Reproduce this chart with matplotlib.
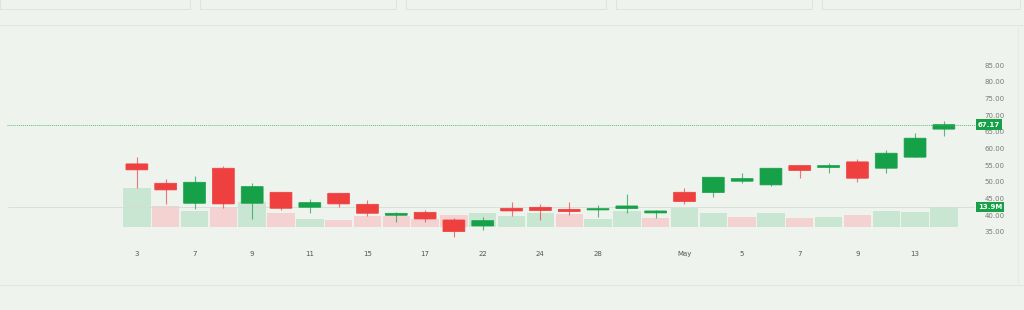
import matplotlib.pyplot as plt
import matplotlib.patches as mpatches
import numpy as np

# daily candles
opens  = [55.4, 49.6, 43.6, 54.1, 43.6, 46.9, 42.4, 46.6, 43.3, 40.0,
          40.9, 38.6, 36.8, 42.1, 42.4, 41.8, 41.6, 42.0, 40.7, 46.9,
          46.8, 50.2, 49.1, 54.9, 54.3, 56.0, 54.1, 57.4, 65.8]
highs  = [57.5, 50.9, 51.8, 54.9, 49.8, 47.0, 44.8, 46.8, 44.6, 41.1,
          41.6, 39.1, 39.6, 43.9, 43.3, 44.1, 43.1, 46.4, 41.6, 48.1,
          51.4, 52.6, 54.3, 55.2, 55.6, 56.8, 59.6, 64.7, 68.3]
lows   = [48.2, 43.4, 41.8, 42.1, 38.9, 41.6, 40.8, 42.4, 39.9, 38.1,
          38.1, 33.4, 35.6, 39.9, 38.6, 40.1, 39.6, 40.8, 39.1, 43.4,
          45.4, 49.6, 48.9, 51.1, 52.6, 49.9, 52.8, 57.4, 63.8]
closes = [53.6, 47.6, 49.9, 43.4, 48.6, 42.1, 43.8, 43.4, 40.6, 40.6,
          38.9, 35.1, 38.4, 41.3, 41.4, 41.1, 42.0, 42.8, 41.3, 44.1,
          51.4, 51.0, 54.1, 53.4, 54.9, 51.1, 58.6, 63.1, 67.17]
volumes = [26.9, 14.4, 11.2, 13.9, 17.1, 9.8, 5.7, 4.8, 7.5, 7.5,
           5.3, 8.0, 9.8, 7.7, 9.8, 8.9, 5.5, 11.0, 6.4, 13.0,
           9.4, 7.1, 9.8, 6.0, 6.6, 8.2, 11.0, 10.1, 13.9]
vol_up = [1, 0, 1, 0, 1, 0, 1, 0, 0, 0, 0, 0, 1, 1, 1, 0, 1, 1, 0, 1,
          1, 0, 1, 0, 1, 0, 1, 1, 1]

tick_pos = [0, 2, 4, 6, 8, 10, 12, 14, 16, 19, 21, 23, 25, 27]
tick_labels = ['3', '7', '9', '11', '15', '17', '22', '24', '28', 'May', '5', '7', '9', '13']
price_ticks = [35, 40, 45, 50, 55, 60, 65, 70, 75, 80, 85]

bg = '#eef3ee'
green = '#16a149'
red = '#ef4040'
vgreen = '#c8e6d2'
vred = '#f4d2d2'

W, H = 1024, 310
fig = plt.figure(figsize=(W / 100, H / 100), dpi=100, facecolor=bg)

# axes: px 0..975 horizontally, px 40..240 from top vertically
ax = fig.add_axes([0, (H - 240) / H, 975 / W, 200 / H])
ax.set_facecolor('none')
axv = ax.twinx()
axv.set_facecolor('none')
ax.set_zorder(axv.get_zorder() + 1)

x = np.arange(len(opens))

# volume bars
vcols = [vgreen if u else vred for u in vol_up]
axv.bar(x, volumes, width=0.95, color=vcols, linewidth=0)
axv.set_ylim(-8.9, 128.1)
axv.axhline(volumes[-1], color='#d6dcd6', lw=0.6, xmin=0.008)
axv.set_yticks([])

# candles
for i in x:
    up = closes[i] >= opens[i]
    c = green if up else red
    ax.vlines(i, lows[i], highs[i], color=c, lw=0.8, alpha=0.7)
    lo = min(opens[i], closes[i])
    h = max(abs(closes[i] - opens[i]), 0.35)
    ax.add_patch(mpatches.FancyBboxPatch((i - 0.38, lo), 0.76, h,
                 boxstyle='round,pad=0,rounding_size=0.05',
                 facecolor=c, edgecolor=c, lw=0.5))

ax.axhline(closes[-1], color='#3fae63', lw=0.7, ls=(0, (1, 1)), xmin=0.007, alpha=0.8)

ax.set_xlim(-4.75, 29.08)
ax.set_ylim(32.6, 92.5)
ax.yaxis.tick_right()
ax.set_yticks(price_ticks)
ax.set_yticklabels(['%.2f' % v for v in price_ticks])
ax.set_xticks(tick_pos)
ax.set_xticklabels(tick_labels)
ax.tick_params(axis='y', length=0, pad=7, labelsize=5, labelcolor='#7a7a7a')
ax.tick_params(axis='x', length=0, pad=8, labelsize=5, labelcolor='#555555')
for a in (ax, axv):
    for s in a.spines.values():
        s.set_visible(False)

# last price / last volume tags
ax.annotate('%.2f' % closes[-1], xy=(1.0, closes[-1]), xycoords=('axes fraction', 'data'),
            xytext=(2, 0), textcoords='offset points', ha='left', va='center',
            fontsize=5, color='white', fontweight='bold',
            bbox=dict(boxstyle='square,pad=0.3', fc=green, ec='none'))
axv.annotate('%.1fM' % volumes[-1], xy=(1.0, volumes[-1]), xycoords=('axes fraction', 'data'),
             xytext=(2, 0), textcoords='offset points', ha='left', va='center',
             fontsize=5, color='white', fontweight='bold',
             bbox=dict(boxstyle='square,pad=0.3', fc=green, ec='none'))

# page chrome: tab boxes on top, separators
for x0, x1 in [(0, 190), (200, 396), (406, 606), (616, 812), (822, 1020)]:
    fig.patches.append(mpatches.Rectangle((x0 / W, 1 - 9 / H), (x1 - x0) / W, 12 / H,
                       transform=fig.transFigure, fc='none', ec='#dfe4df', lw=0.8))
fig.add_artist(plt.Line2D([0, 1], [1 - 25 / H, 1 - 25 / H], color='#e2e7e2', lw=0.8))
fig.add_artist(plt.Line2D([0, 1], [1 - 285 / H, 1 - 285 / H], color='#e2e7e2', lw=0.8))
fig.add_artist(plt.Line2D([1018 / W, 1018 / W], [1 - 285 / H, 1 - 27 / H], color='#e6ebe6', lw=0.8))

plt.savefig('out.png', dpi=100, facecolor=bg)
